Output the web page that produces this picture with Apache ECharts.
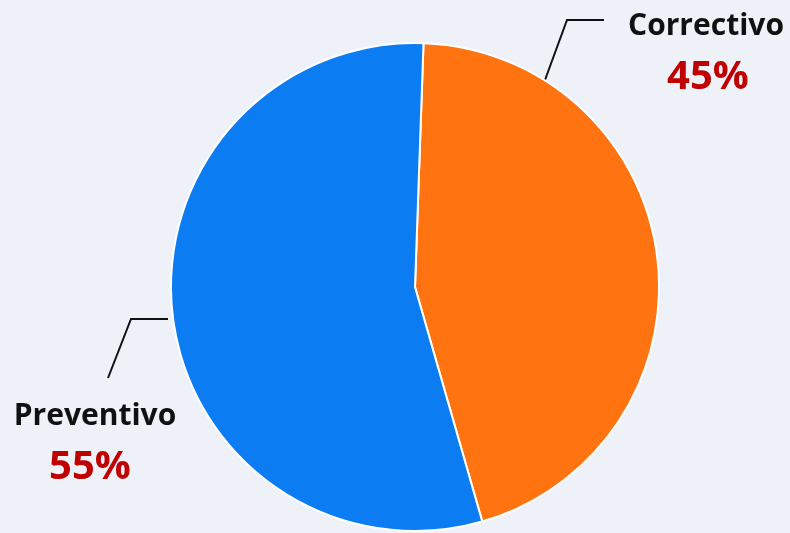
<!DOCTYPE html>
<html>
<head>
<meta charset="utf-8">
<script src="https://cdn.jsdelivr.net/npm/echarts@6/dist/echarts.min.js"></script>
<style>
html,body{margin:0;padding:0;background:#eef2f8;}
#chart{width:790px;height:533px;}
</style>
</head>
<body>
<div id="chart"></div>
<script>
var categories = ['Correctivo', 'Preventivo'];
var values = [45, 55];
var colors = ['#ff7410', '#0b7cf2'];

var labelPlaces = {
  'Correctivo': { x: 706, y: 4, pStyle: 'p', line: [[545, 80], [567, 20], [604, 20]] },
  'Preventivo': { x: 95, y: 394, pStyle: 'pl', line: [[168, 319], [131, 319], [108, 378]] }
};

var chart = echarts.init(document.getElementById('chart'));
chart.setOption({
  backgroundColor: '#eef2f8',
  animation: false,
  series: [{
    type: 'pie',
    center: [415, 287],
    radius: 244,
    startAngle: 88,
    clockwise: true,
    avoidLabelOverlap: false,
    data: categories.map(function (c, i) {
      return { name: c, value: values[i], itemStyle: { color: colors[i] } };
    }),
    itemStyle: { borderColor: '#ffffff', borderWidth: 2 },
    label: {
      show: true,
      position: 'outside',
      overflow: 'none',
      width: 300,
      formatter: function (p) {
        var st = labelPlaces[p.name].pStyle;
        return '{n|' + p.name + '}\n{' + st + '|' + p.value + '%}';
      },
      rich: {
        n: { fontFamily: 'Open Sans', fontWeight: 'bold', fontSize: 30, color: '#111111', lineHeight: 44, align: 'center' },
        p: { fontFamily: 'Open Sans', fontWeight: 'bold', fontSize: 40, color: '#c00000', lineHeight: 60, align: 'center', padding: [0, 0, 0, 4] },
        pl: { fontFamily: 'Open Sans', fontWeight: 'bold', fontSize: 40, color: '#c00000', lineHeight: 60, align: 'center', padding: [0, 10, 0, 0] }
      }
    },
    labelLine: { show: true, lineStyle: { color: '#111111', width: 2 } },
    labelLayout: function (params) {
      var name = categories[params.dataIndex];
      var lp = labelPlaces[name];
      return {
        x: lp.x,
        y: lp.y,
        align: 'center',
        verticalAlign: 'top',
        labelLinePoints: lp.line
      };
    }
  }]
});
</script>
</body>
</html>
